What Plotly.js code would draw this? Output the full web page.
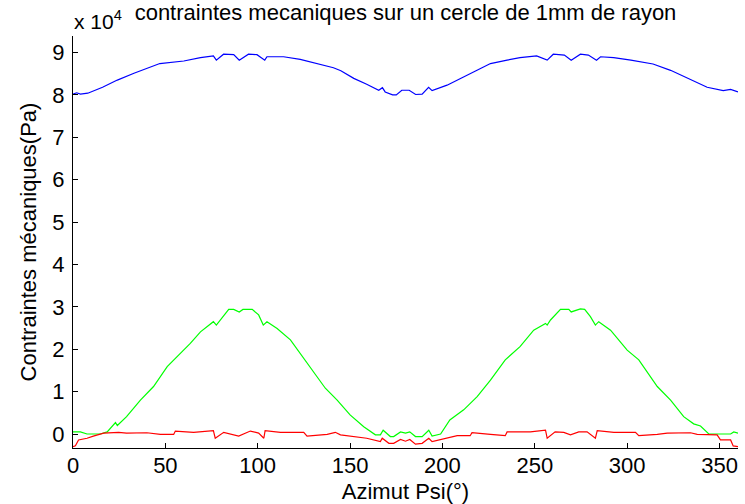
<!DOCTYPE html>
<html>
<head>
<meta charset="utf-8">
<script src="https://cdn.plot.ly/plotly-3.0.1.min.js"></script>
<style>
  html, body { margin: 0; padding: 0; background: #ffffff; }
  #chart { width: 745px; height: 504px; }
</style>
</head>
<body>
<div id="chart"></div>
<script>
// Azimuth Psi (degrees) and stresses (units of 10^4 Pa)
var psiBlue = [0, 2, 4, 8, 16, 24, 33, 42, 47, 60, 69, 76, 77.6, 81.5, 87, 90, 95, 99.6, 103.8, 105, 114, 123, 134, 141, 145, 152, 159, 165.5, 167.5, 169, 173, 175, 178, 182, 185.5, 189, 192.5, 194.4, 202.5, 211.5, 219, 226, 235, 242, 251, 256.7, 260, 266, 269.7, 274.7, 279, 283.4, 285.6, 292.7, 302, 314, 323.5, 334.4, 343.3, 352, 356, 360];
var stressBlue = [8.02, 8.05, 8.02, 8.04, 8.18, 8.35, 8.51, 8.66, 8.74, 8.80, 8.88, 8.92, 8.82, 8.96, 8.95, 8.82, 8.96, 8.95, 8.82, 8.90, 8.90, 8.84, 8.72, 8.64, 8.57, 8.39, 8.25, 8.11, 8.17, 8.07, 8.00, 8.00, 8.11, 8.11, 8.01, 8.02, 8.18, 8.10, 8.23, 8.43, 8.60, 8.74, 8.82, 8.88, 8.92, 8.82, 8.96, 8.94, 8.82, 8.96, 8.94, 8.82, 8.90, 8.88, 8.82, 8.73, 8.58, 8.37, 8.18, 8.10, 8.13, 8.07];

var psiGreen = [0, 4, 7.6, 14.8, 18.5, 23, 24, 29, 36.5, 43.6, 51, 56.3, 63.5, 69, 76, 77.6, 79.8, 84.3, 87, 90, 92, 97, 100.5, 103, 105, 110.5, 117.7, 125, 130.3, 136.6, 143, 150, 157.4, 163.7, 166.4, 167.9, 171.8, 173.6, 177.3, 180, 182.3, 185.4, 189, 192.6, 194.4, 199, 204, 211.5, 218.8, 226, 234, 242, 249.4, 255.8, 256.7, 258.5, 263.9, 268.4, 269.7, 274.7, 277, 280.1, 282.8, 284.6, 291, 300, 306.3, 316.3, 323.5, 330.6, 336, 339.7, 344.2, 356, 357.7, 360];
var stressGreen = [0.05, 0.05, 0.00, 0.00, 0.05, 0.27, 0.20, 0.41, 0.80, 1.12, 1.59, 1.82, 2.14, 2.41, 2.65, 2.57, 2.69, 2.94, 2.94, 2.88, 2.94, 2.94, 2.81, 2.57, 2.65, 2.49, 2.22, 1.79, 1.47, 1.08, 0.80, 0.45, 0.17, -0.02, -0.02, 0.09, -0.06, -0.06, 0.05, 0.02, 0.05, -0.06, -0.06, 0.09, -0.05, 0.00, 0.33, 0.57, 0.88, 1.27, 1.75, 2.06, 2.45, 2.61, 2.57, 2.69, 2.94, 2.94, 2.88, 2.95, 2.94, 2.77, 2.57, 2.65, 2.45, 1.98, 1.75, 1.12, 0.80, 0.41, 0.24, 0.19, 0.00, 0.00, 0.05, 0.02];

var psiRed = [0, 1.3, 3, 7.6, 11, 16.6, 24.7, 29, 40, 47.3, 54.5, 55.4, 65.3, 76, 77, 81.6, 89.7, 96, 100.5, 103.3, 104, 112.3, 124.9, 126.7, 137.6, 142, 144.8, 150, 159, 166.4, 167.4, 171, 173.6, 177.3, 180, 182.3, 185.4, 189, 192.6, 194.4, 199.8, 208, 215, 216, 226, 234, 235, 247.6, 255.8, 256.7, 261, 265.7, 269.3, 273.8, 278.3, 282.8, 283.8, 292.8, 304.5, 306.3, 316.3, 321.7, 334.3, 337.9, 348.7, 350.5, 356, 357.4, 360];
var stressRed = [-0.30, -0.28, -0.14, -0.10, -0.05, 0.02, 0.04, 0.02, 0.03, -0.01, -0.01, 0.07, 0.04, 0.08, -0.10, 0.04, -0.05, 0.07, 0.02, -0.10, 0.08, 0.04, 0.04, -0.05, -0.01, 0.04, -0.02, -0.05, -0.10, -0.18, -0.10, -0.22, -0.22, -0.13, -0.17, -0.13, -0.24, -0.22, -0.10, -0.18, -0.13, -0.04, -0.04, 0.03, -0.01, -0.04, 0.05, 0.05, 0.09, -0.10, 0.05, 0.04, -0.02, 0.05, 0.05, -0.10, 0.08, 0.04, 0.04, -0.04, -0.01, 0.02, 0.03, -0.01, -0.02, -0.14, -0.14, -0.28, -0.30];

var xTickVals = [0, 50, 100, 150, 200, 250, 300, 350];
var yTickVals = [0, 1, 2, 3, 4, 5, 6, 7, 8, 9];

var titleText = 'contraintes mecaniques sur un cercle de 1mm de rayon';
var xTitle = 'Azimut Psi(°)';
var yTitle = 'Contraintes mécaniques(Pa)';
var exponentLabel = 'x 10<sup>4</sup>';

var FONT = 'Liberation Sans, Arial, Helvetica, sans-serif';

function series(x, y, color) {
  return { x: x, y: y, type: 'scatter', mode: 'lines',
           line: { color: color, width: 1.2 }, hoverinfo: 'skip', showlegend: false };
}

var data = [
  series(psiBlue, stressBlue, '#0000ff'),
  series(psiGreen, stressGreen, '#00ff00'),
  series(psiRed, stressRed, '#ff0000')
];

var axisCommon = {
  showline: true, linecolor: '#000000', linewidth: 1,
  ticks: 'inside', ticklen: 5, tickwidth: 1, tickcolor: '#000000',
  showgrid: false, zeroline: false, mirror: false, automargin: false,
  tickfont: { family: FONT, size: 22, color: '#000000' }
};

var layout = {
  width: 745, height: 504,
  paper_bgcolor: '#ffffff', plot_bgcolor: '#ffffff',
  margin: { l: 73, r: 7, t: 36, b: 56, pad: 0 },
  font: { family: FONT, color: '#000000' },
  title: { text: titleText, font: { family: FONT, size: 22, color: '#000000' },
           xref: 'paper', x: 0.5, xanchor: 'center',
           yref: 'container', y: 0.99, yanchor: 'top' },
  xaxis: Object.assign({}, axisCommon, {
    range: [0, 360], tickmode: 'array', tickvals: xTickVals,
    ticklabelstandoff: -2,
    title: { text: xTitle, font: { family: FONT, size: 22, color: '#000000' }, standoff: 8 }
  }),
  yaxis: Object.assign({}, axisCommon, {
    range: [-0.33, 9.39], tickmode: 'array', tickvals: yTickVals,
    ticklabelstandoff: 3,
    title: { text: yTitle, font: { family: FONT, size: 22, color: '#000000' }, standoff: 9 }
  }),
  annotations: [{
    text: exponentLabel, xref: 'paper', yref: 'paper', x: 0, y: 1,
    xanchor: 'left', yanchor: 'bottom', yshift: 1, xshift: -1, showarrow: false,
    font: { family: FONT, size: 21, color: '#000000' }
  }]
};

Plotly.newPlot('chart', data, layout, { displayModeBar: false, staticPlot: true });
</script>
</body>
</html>
